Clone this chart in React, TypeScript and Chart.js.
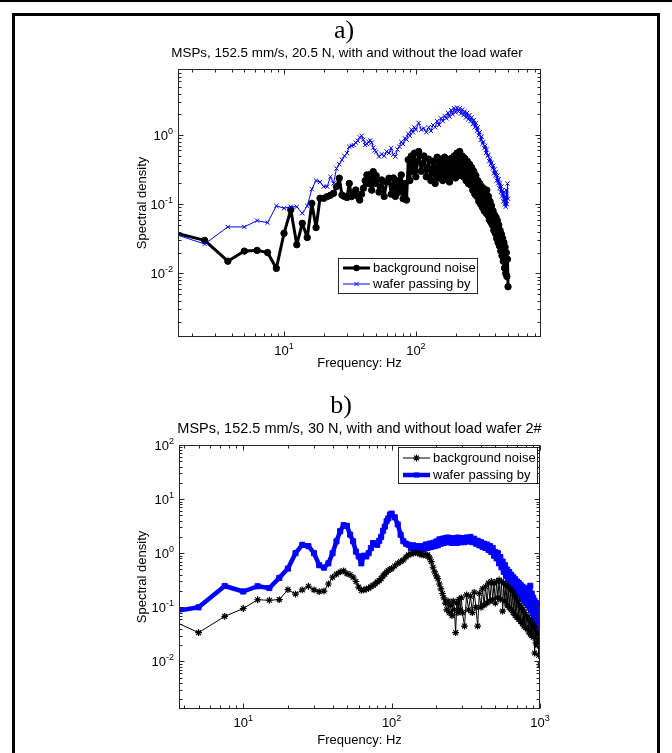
import React, { useEffect, useRef } from "react";
import { Chart, registerables } from "chart.js";

Chart.register(...registerables);

type Pt = [number, number];

// ---------- panel a): 152.5 mm/s, 20.5 N ----------
const noiseA: Pt[] = [
  [1.25, 0.042], [2.5, 0.030], [3.75, 0.015], [5, 0.021], [6.25, 0.0215], [7.5, 0.020], [8.75, 0.0118],
  [10, 0.038], [11.25, 0.083], [12.5, 0.026], [13.75, 0.053], [15, 0.033], [16.25, 0.103], [17.5, 0.046],
  [18.75, 0.122], [20, 0.122], [21.25, 0.129], [22.5, 0.135], [23.75, 0.144], [25, 0.18], [26.25, 0.238],
  [27.5, 0.136], [28.75, 0.13], [30, 0.125], [31.25, 0.2], [32.5, 0.129], [33.75, 0.14], [35, 0.161],
  [36.25, 0.13], [37.5, 0.115], [38.75, 0.14], [40, 0.17], [41.25, 0.22], [42.5, 0.266], [43.75, 0.2],
  [45, 0.27], [46.25, 0.16], [47.5, 0.297], [48.75, 0.2], [50, 0.26],
  [52.5, 0.15], [55, 0.225], [57.5, 0.13], [60, 0.21], [62.5, 0.238], [65, 0.14], [67.5, 0.24], [70, 0.13],
  [72.5, 0.22], [75, 0.15], [77.5, 0.266], [80, 0.12], [82.5, 0.2], [85, 0.115], [87.5, 0.44], [90, 0.22],
  [92.5, 0.5], [95, 0.3], [97.5, 0.55], [100, 0.25],
  [105, 0.58], [110, 0.3], [115, 0.5], [120, 0.25], [125, 0.45], [130, 0.22], [135, 0.42], [140, 0.2],
  [145, 0.48], [150, 0.24], [155, 0.45], [160, 0.22], [165, 0.48], [170, 0.25], [175, 0.44], [180, 0.21],
  [185, 0.46], [190, 0.26], [195, 0.5], [200, 0.24], [205, 0.55], [210, 0.3], [215, 0.58], [220, 0.26],
  [225, 0.5], [230, 0.25], [235, 0.46], [240, 0.22], [245, 0.42], [250, 0.2], [255, 0.38], [260, 0.19],
  [265, 0.34], [270, 0.16], [275, 0.3], [280, 0.14], [285, 0.26], [290, 0.13], [295, 0.22], [300, 0.11],
  [305, 0.2], [310, 0.1], [315, 0.18], [320, 0.09], [325, 0.17], [330, 0.08], [335, 0.15], [340, 0.075],
  [345, 0.16], [350, 0.07], [355, 0.13], [360, 0.06], [365, 0.11], [370, 0.055], [375, 0.095], [380, 0.05],
  [385, 0.08], [390, 0.042], [395, 0.07], [400, 0.038], [405, 0.065], [410, 0.032], [415, 0.058],
  [420, 0.028], [425, 0.05], [430, 0.025], [435, 0.042], [440, 0.021], [445, 0.037], [450, 0.018],
  [455, 0.032], [460, 0.015], [465, 0.028], [470, 0.012], [475, 0.024], [480, 0.01], [485, 0.02],
  [490, 0.009], [495, 0.016], [500, 0.0064],
];

const waferA: Pt[] = [
  [1.25, 0.041], [2.5, 0.0266], [3.75, 0.047], [5, 0.047], [6.25, 0.058], [7.5, 0.054], [8.75, 0.0945],
  [10, 0.0875], [11.25, 0.092], [12.5, 0.092], [13.75, 0.074], [15, 0.0945], [16.25, 0.165], [17.5, 0.22],
  [18.75, 0.21], [20, 0.18], [21.25, 0.18], [22.5, 0.25], [23.75, 0.2], [25, 0.33], [26.25, 0.38],
  [27.5, 0.44], [28.75, 0.5], [30, 0.55], [31.25, 0.68], [32.5, 0.7], [33.75, 0.72], [35, 0.78],
  [36.25, 0.83], [37.5, 0.93], [38.75, 0.98], [40, 0.86], [41.25, 0.72], [42.5, 0.75], [43.75, 0.8],
  [45, 0.84], [46.25, 0.78], [47.5, 0.66], [48.75, 0.6], [50, 0.57],
  [52.5, 0.49], [55, 0.53], [57.5, 0.5], [60, 0.58], [62.5, 0.55], [65, 0.65], [67.5, 0.52], [70, 0.49],
  [72.5, 0.62], [75, 0.68], [77.5, 0.8], [80, 0.74], [82.5, 0.9], [85, 0.86], [87.5, 1.05], [90, 0.98],
  [92.5, 1.2], [95, 1.1], [97.5, 1.3], [100, 1.2],
  [105, 1.5], [110, 1.2], [115, 1.25], [120, 1.1], [125, 1.3], [130, 1.15], [135, 1.4], [140, 1.3],
  [145, 1.6], [150, 1.4], [155, 1.75], [160, 1.6], [165, 1.9], [170, 1.75], [175, 2.1], [180, 1.85],
  [185, 2.3], [190, 2.0], [195, 2.45], [200, 2.15], [205, 2.5], [210, 2.2], [215, 2.45], [220, 2.05],
  [225, 2.35], [230, 1.95], [235, 2.2], [240, 1.8], [245, 2.1], [250, 1.7], [255, 1.95], [260, 1.6],
  [265, 1.8], [270, 1.45], [275, 1.65], [280, 1.3], [285, 1.5], [290, 1.15], [295, 1.3], [300, 1.0],
  [305, 1.1], [310, 0.85], [315, 0.95], [320, 0.75], [325, 0.8], [330, 0.65], [335, 0.7], [340, 0.55],
  [345, 0.62], [350, 0.5], [355, 0.52], [360, 0.42], [365, 0.45], [370, 0.38], [375, 0.4], [380, 0.33],
  [385, 0.36], [390, 0.28], [395, 0.32], [400, 0.26], [405, 0.29], [410, 0.22], [415, 0.26], [420, 0.2],
  [425, 0.23], [430, 0.17], [435, 0.2], [440, 0.15], [445, 0.18], [450, 0.13], [455, 0.16], [460, 0.11],
  [465, 0.15], [470, 0.1], [475, 0.13], [480, 0.092], [485, 0.16], [490, 0.1], [495, 0.2], [500, 0.12],
];

// ---------- panel b): 152.5 mm/s, 30 N ----------
const noiseB: Pt[] = [
  [2.5, 0.082], [5, 0.034], [7.5, 0.068], [10, 0.095], [12.5, 0.138], [15, 0.135], [17.5, 0.139],
  [20, 0.212], [22.5, 0.176], [25, 0.21], [27.5, 0.245], [30, 0.21], [32.5, 0.195], [35, 0.2],
  [37.5, 0.27], [40, 0.36], [42.5, 0.41], [45, 0.45], [47.5, 0.47], [50, 0.42], [52.5, 0.4], [55, 0.36],
  [57.5, 0.3], [60, 0.237], [62.5, 0.205], [65, 0.21], [67.5, 0.217], [70, 0.225], [72.5, 0.24],
  [75, 0.255], [77.5, 0.27], [80, 0.295], [82.5, 0.31], [85, 0.34], [87.5, 0.38], [90, 0.41],
  [92.5, 0.45], [95, 0.48], [97.5, 0.5], [100, 0.52],
  [105, 0.58], [110, 0.65], [115, 0.7], [120, 0.75], [125, 0.85], [130, 0.93], [135, 0.97], [140, 1.0],
  [145, 1.02], [150, 1.0], [155, 0.97], [160, 0.93], [165, 0.95], [170, 0.9], [175, 0.93], [180, 0.82],
  [185, 0.7], [190, 0.55], [195, 0.45], [200, 0.38], [205, 0.34], [210, 0.27], [215, 0.22], [220, 0.18],
  [225, 0.15], [230, 0.12], [235, 0.09], [240, 0.13], [245, 0.08], [250, 0.11], [255, 0.07], [260, 0.13],
  [265, 0.09], [270, 0.034], [275, 0.12], [280, 0.08], [285, 0.14], [290, 0.09], [295, 0.15], [300, 0.08],
  [310, 0.045], [320, 0.17], [330, 0.09], [340, 0.16], [350, 0.08], [360, 0.19], [370, 0.1], [380, 0.045],
  [390, 0.18], [400, 0.1], [410, 0.22], [420, 0.11], [430, 0.24], [440, 0.12], [450, 0.28], [460, 0.13],
  [470, 0.3], [480, 0.14], [490, 0.28], [500, 0.12], [510, 0.3], [520, 0.15], [530, 0.32], [540, 0.14],
  [550, 0.3], [560, 0.085], [570, 0.28], [580, 0.13], [590, 0.26], [600, 0.11], [610, 0.24], [620, 0.1],
  [630, 0.22], [640, 0.09], [650, 0.2], [660, 0.08], [670, 0.17], [680, 0.07], [690, 0.15], [700, 0.065],
  [710, 0.13], [720, 0.06], [730, 0.11], [740, 0.055], [750, 0.1], [760, 0.05], [770, 0.09], [780, 0.045],
  [790, 0.08], [800, 0.042], [810, 0.07], [820, 0.04], [830, 0.065], [840, 0.035], [850, 0.06], [860, 0.032],
  [870, 0.055], [880, 0.03], [890, 0.05], [900, 0.028], [910, 0.045], [920, 0.0143], [930, 0.04],
  [940, 0.022], [950, 0.035], [960, 0.02], [970, 0.03], [980, 0.013], [990, 0.02], [1000, 0.0087],
];

const waferB: Pt[] = [
  [2.5, 0.073], [5, 0.1], [7.5, 0.248], [10, 0.196], [12.5, 0.245], [15, 0.227], [17.5, 0.35], [20, 0.52],
  [22.5, 1.0], [25, 1.43], [27.5, 1.35], [30, 1.0], [32.5, 0.6], [35, 0.54], [37.5, 0.65], [40, 1.0],
  [42.5, 1.66], [45, 2.55], [47.5, 3.3], [50, 3.2], [52.5, 2.2], [55, 1.66], [57.5, 1.07], [60, 0.87],
  [62.5, 0.65], [65, 0.9], [67.5, 0.87], [70, 1.0], [72.5, 1.24], [75, 1.54], [77.5, 1.5], [80, 1.43],
  [82.5, 1.7], [85, 2.0], [87.5, 2.6], [90, 3.1], [92.5, 3.9], [95, 4.4], [97.5, 5.2], [100, 5.4],
  [105, 4.6], [110, 3.4], [115, 2.2], [120, 1.66], [125, 1.5], [130, 1.43], [135, 1.25], [140, 1.4],
  [145, 1.2], [150, 1.35], [155, 1.2], [160, 1.35], [165, 1.2], [170, 1.45], [175, 1.25], [180, 1.5],
  [185, 1.3], [190, 1.55], [195, 1.35], [200, 1.65], [205, 1.4], [210, 1.8], [215, 1.5], [220, 1.85],
  [225, 1.55], [230, 1.9], [235, 1.6], [240, 1.95], [245, 1.6], [250, 1.8], [255, 1.55], [260, 1.9],
  [265, 1.6], [270, 1.85], [275, 1.55], [280, 1.95], [285, 1.6], [290, 1.9], [295, 1.6], [300, 1.9],
  [310, 1.6], [320, 1.95], [330, 1.65], [340, 2.0], [350, 1.6], [360, 1.85], [370, 1.5], [380, 1.7],
  [390, 1.4], [400, 1.6], [410, 1.3], [420, 1.5], [430, 1.25], [440, 1.45], [450, 1.15], [460, 1.35],
  [470, 1.05], [480, 1.25], [490, 0.9], [500, 1.05], [510, 0.8], [520, 1.0], [530, 0.65], [540, 0.85],
  [550, 0.55], [560, 0.7], [570, 0.45], [580, 0.6], [590, 0.38], [600, 0.5], [610, 0.33], [620, 0.45],
  [630, 0.3], [640, 0.4], [650, 0.27], [660, 0.36], [670, 0.24], [680, 0.33], [690, 0.2], [700, 0.3],
  [710, 0.19], [720, 0.28], [730, 0.17], [740, 0.26], [750, 0.15], [760, 0.24], [770, 0.14], [780, 0.23],
  [790, 0.13], [800, 0.22], [810, 0.12], [820, 0.2], [830, 0.11], [840, 0.19], [850, 0.1], [860, 0.25],
  [870, 0.09], [880, 0.18], [890, 0.08], [900, 0.15], [910, 0.07], [920, 0.13], [930, 0.06], [940, 0.12],
  [950, 0.055], [960, 0.1], [970, 0.05], [980, 0.08], [990, 0.045], [1000, 0.034],
];

// axis ranges (Hz and spectral density) and labelled decades
const xRangeA: [number, number] = [1.57, 889];
const yRangeA: [number, number] = [0.0012, 9.06];
const xDecadesA = [1, 2];
const yDecadesA = [-2, -1, 0];

const xRangeB: [number, number] = [3.69, 1000];
const yRangeB: [number, number] = [0.00132, 100];
const xDecadesB = [1, 2, 3];
const yDecadesB = [-2, -1, 0, 1, 2];

const seriesNames = ["background noise", "wafer passing by"];
const titleA = "MSPs, 152.5 mm/s, 20.5 N, with and without the load wafer";
const titleB = "MSPs, 152.5 mm/s, 30 N, with and without load wafer 2#";
const xTitle = "Frequency: Hz";
const yTitle = "Spectral density";

const SANS = '"Liberation Sans", Arial, sans-serif';
const SERIF = '"Liberation Serif", "Times New Roman", serif';
const AXIS = "#262626";
const BLUE = "#0000ff";

type Marker = "circle" | "crossRot" | "star" | "rect";

interface SeriesStyle {
  color: string;
  lineWidth: number;
  marker: Marker;
  radius: number;
  markerLine: number;
  filled: boolean;
  order: number;
}

interface PanelLayout {
  tag: string;
  title: string;
  titleSize: number;
  canvasTop: number;
  canvasHeight: number;
  area: { left: number; top: number; right: number; bottom: number };
  tagX: number;
  tagBaseline: number;
  titleX: number;
  titleBaseline: number;
  xTickBaseline: number;
  xTitleBaseline: number;
  yTitleX: number;
  legend: { left: number; top: number; right: number; bottom: number; rows: [number, number]; line: [number, number]; textX: number };
}

function drawMarker(ctx: CanvasRenderingContext2D, s: SeriesStyle, x: number, y: number) {
  const r = s.radius;
  ctx.save();
  ctx.strokeStyle = s.color;
  ctx.fillStyle = s.color;
  ctx.lineWidth = s.markerLine;
  ctx.beginPath();
  if (s.marker === "circle") {
    ctx.arc(x, y, r, 0, Math.PI * 2);
    ctx.fill();
  } else if (s.marker === "rect") {
    const h = r * Math.SQRT1_2;
    ctx.fillRect(x - h, y - h, 2 * h, 2 * h);
  } else if (s.marker === "crossRot") {
    const h = r * Math.SQRT1_2;
    ctx.moveTo(x - h, y - h); ctx.lineTo(x + h, y + h);
    ctx.moveTo(x - h, y + h); ctx.lineTo(x + h, y - h);
    ctx.stroke();
  } else {
    const h = r * Math.SQRT1_2;
    ctx.moveTo(x - r, y); ctx.lineTo(x + r, y);
    ctx.moveTo(x, y - r); ctx.lineTo(x, y + r);
    ctx.moveTo(x - h, y - h); ctx.lineTo(x + h, y + h);
    ctx.moveTo(x - h, y + h); ctx.lineTo(x + h, y - h);
    ctx.stroke();
  }
  ctx.restore();
}

function drawPower(ctx: CanvasRenderingContext2D, exp: number, x: number, y: number, align: "right" | "center") {
  const e = exp < 0 ? "-" + Math.abs(exp) : String(exp);
  ctx.font = `13px ${SANS}`;
  const wb = ctx.measureText("10").width;
  ctx.font = `9px ${SANS}`;
  const we = ctx.measureText(e).width;
  const x0 = align === "right" ? x - wb - we : x - (wb + we) / 2;
  ctx.textAlign = "left";
  ctx.textBaseline = "alphabetic";
  ctx.font = `13px ${SANS}`;
  ctx.fillText("10", x0, y);
  ctx.font = `9px ${SANS}`;
  ctx.fillText(e, x0 + wb, y - 6);
}

function decorations(L: PanelLayout, xDec: number[], yDec: number[], styles: SeriesStyle[]) {
  return {
    id: "panelDecor",
    afterDatasetsDraw(chart: Chart) {
      const ctx = chart.ctx;
      const xs = chart.scales.x;
      const ys = chart.scales.y;
      const { left, right, top, bottom } = chart.chartArea;
      const oy = L.canvasTop;
      ctx.save();
      ctx.fillStyle = "#000";

      // panel tag and title
      ctx.font = `26px ${SERIF}`;
      ctx.textAlign = "center";
      ctx.textBaseline = "alphabetic";
      ctx.fillText(L.tag, L.tagX, L.tagBaseline - oy);
      ctx.font = `${L.titleSize}px ${SANS}`;
      ctx.fillText(L.title, L.titleX, L.titleBaseline - oy);

      // axes box
      ctx.strokeStyle = AXIS;
      ctx.lineWidth = 1;
      const l = Math.round(left) + 0.5, r = Math.round(right) - 0.5;
      const t = Math.round(top) + 0.5, b = Math.round(bottom) - 0.5;
      ctx.strokeRect(l, t, r - l, b - t);

      // inward log ticks on all four sides
      ctx.beginPath();
      const xmin = xs.min, xmax = xs.max, ymin = ys.min, ymax = ys.max;
      for (let d = Math.floor(Math.log10(xmin)); d <= Math.ceil(Math.log10(xmax)); d++) {
        for (let m = 1; m <= 9; m++) {
          const v = m * Math.pow(10, d);
          if (v < xmin || v > xmax) continue;
          const px = Math.round(xs.getPixelForValue(v)) + 0.5;
          const len = m === 1 ? 5 : 3;
          ctx.moveTo(px, b); ctx.lineTo(px, b - len);
          ctx.moveTo(px, t); ctx.lineTo(px, t + len);
        }
      }
      for (let d = Math.floor(Math.log10(ymin)); d <= Math.ceil(Math.log10(ymax)); d++) {
        for (let m = 1; m <= 9; m++) {
          const v = m * Math.pow(10, d);
          if (v < ymin || v > ymax) continue;
          const py = Math.round(ys.getPixelForValue(v)) + 0.5;
          const len = m === 1 ? 5 : 3;
          ctx.moveTo(l, py); ctx.lineTo(l + len, py);
          ctx.moveTo(r, py); ctx.lineTo(r - len, py);
        }
      }
      ctx.stroke();

      // tick labels
      ctx.fillStyle = "#000";
      for (const e of xDec) {
        const px = xs.getPixelForValue(Math.pow(10, e));
        drawPower(ctx, e, px, L.xTickBaseline - oy, "center");
      }
      for (const e of yDec) {
        const py = ys.getPixelForValue(Math.pow(10, e));
        drawPower(ctx, e, left - 5, py + 4.5, "right");
      }

      // axis titles
      ctx.font = `13px ${SANS}`;
      ctx.textAlign = "center";
      ctx.textBaseline = "alphabetic";
      ctx.fillText(xTitle, (left + right) / 2, L.xTitleBaseline - oy);
      ctx.save();
      ctx.translate(L.yTitleX, (top + bottom) / 2);
      ctx.rotate(-Math.PI / 2);
      ctx.textBaseline = "middle";
      ctx.fillText(yTitle, 0, 0);
      ctx.restore();

      // legend
      const g = L.legend;
      ctx.fillStyle = "#fff";
      ctx.fillRect(g.left, g.top - oy, g.right - g.left, g.bottom - g.top);
      ctx.strokeStyle = AXIS;
      ctx.lineWidth = 1;
      ctx.strokeRect(g.left + 0.5, g.top - oy + 0.5, g.right - g.left - 1, g.bottom - g.top - 1);
      styles.forEach((s, i) => {
        const y = g.rows[i] - oy;
        ctx.strokeStyle = s.color;
        ctx.lineWidth = s.lineWidth;
        ctx.beginPath();
        ctx.moveTo(g.line[0], y);
        ctx.lineTo(g.line[1], y);
        ctx.stroke();
        drawMarker(ctx, s, (g.line[0] + g.line[1]) / 2, y);
        ctx.fillStyle = "#000";
        ctx.font = `13px ${SANS}`;
        ctx.textAlign = "left";
        ctx.textBaseline = "middle";
        ctx.fillText(seriesNames[i], g.textX, y + 0.5);
      });
      ctx.restore();
    },
  };
}

const stylesA: SeriesStyle[] = [
  { color: "#000", lineWidth: 3, marker: "circle", radius: 3.2, markerLine: 1, filled: true, order: 1 },
  { color: BLUE, lineWidth: 1, marker: "crossRot", radius: 3, markerLine: 1, filled: false, order: 0 },
];
const stylesB: SeriesStyle[] = [
  { color: "#000", lineWidth: 1, marker: "star", radius: 3.4, markerLine: 1.2, filled: false, order: 0 },
  { color: BLUE, lineWidth: 4.5, marker: "rect", radius: 3.6, markerLine: 1, filled: true, order: 1 },
];

const layoutA: PanelLayout = {
  tag: "a)", title: titleA, titleSize: 13.4, canvasTop: 16, canvasHeight: 364,
  area: { left: 178, top: 69, right: 541, bottom: 337 },
  tagX: 344, tagBaseline: 38, titleX: 347, titleBaseline: 57, xTickBaseline: 355, xTitleBaseline: 367, yTitleX: 142,
  legend: { left: 338, top: 258, right: 478, bottom: 294, rows: [268, 284], line: [343, 370], textX: 373 },
};
const layoutB: PanelLayout = {
  tag: "b)", title: titleB, titleSize: 14.5, canvasTop: 380, canvasHeight: 373,
  area: { left: 179, top: 445, right: 540, bottom: 709 },
  tagX: 341, tagBaseline: 413, titleX: 359.5, titleBaseline: 433, xTickBaseline: 727, xTitleBaseline: 744, yTitleX: 142,
  legend: { left: 398, top: 447, right: 538, bottom: 484, rows: [458, 475], line: [403, 430], textX: 433 },
};

function LogPanel(props: {
  layout: PanelLayout; series: Pt[][]; styles: SeriesStyle[];
  xRange: [number, number]; yRange: [number, number]; xDec: number[]; yDec: number[];
}) {
  const ref = useRef<HTMLCanvasElement | null>(null);
  const { layout, series, styles, xRange, yRange, xDec, yDec } = props;
  useEffect(() => {
    if (!ref.current) return;
    const a = layout.area;
    const chart = new Chart(ref.current, {
      type: "line",
      data: {
        datasets: series.map((pts, i) => {
          const s = styles[i];
          return {
            label: seriesNames[i],
            data: pts.map(([x, y]) => ({ x, y })),
            borderColor: s.color,
            backgroundColor: s.color,
            borderWidth: s.lineWidth,
            borderJoinStyle: "round" as const,
            borderCapStyle: "round" as const,
            pointStyle: s.marker,
            pointRadius: s.radius,
            pointBorderWidth: s.markerLine,
            pointBorderColor: s.color,
            pointBackgroundColor: s.filled ? s.color : "rgba(0,0,0,0)",
            tension: 0,
            fill: false,
            clip: 0,
            order: s.order,
          };
        }),
      },
      options: {
        animation: false,
        responsive: false,
        maintainAspectRatio: false,
        events: [],
        layout: {
          padding: {
            left: a.left,
            right: 672 - a.right,
            top: a.top - layout.canvasTop,
            bottom: layout.canvasTop + layout.canvasHeight - a.bottom,
          },
        },
        plugins: { legend: { display: false }, tooltip: { enabled: false }, title: { display: false } },
        scales: {
          x: { type: "logarithmic", min: xRange[0], max: xRange[1], display: false },
          y: { type: "logarithmic", min: yRange[0], max: yRange[1], display: false },
        },
      },
      plugins: [decorations(layout, xDec, yDec, styles)],
    });
    return () => chart.destroy();
  }, []);
  return (
    <canvas
      ref={ref}
      width={672}
      height={layout.canvasHeight}
      style={{ position: "absolute", left: 0, top: layout.canvasTop, width: 672, height: layout.canvasHeight }}
    />
  );
}

export default function App() {
  return (
    <div style={{ position: "absolute", left: 0, top: 0, width: 672, height: 753, background: "#fff", overflow: "hidden" }}>
      <div style={{ position: "absolute", left: 0, top: 0, width: 672, height: 2, background: "#000" }} />
      <div
        style={{
          position: "absolute", left: 12, top: 13, width: 642, height: 760,
          border: "3px solid #000", boxSizing: "content-box",
        }}
      />
      <LogPanel layout={layoutA} series={[noiseA, waferA]} styles={stylesA}
        xRange={xRangeA} yRange={yRangeA} xDec={xDecadesA} yDec={yDecadesA} />
      <LogPanel layout={layoutB} series={[noiseB, waferB]} styles={stylesB}
        xRange={xRangeB} yRange={yRangeB} xDec={xDecadesB} yDec={yDecadesB} />
    </div>
  );
}
